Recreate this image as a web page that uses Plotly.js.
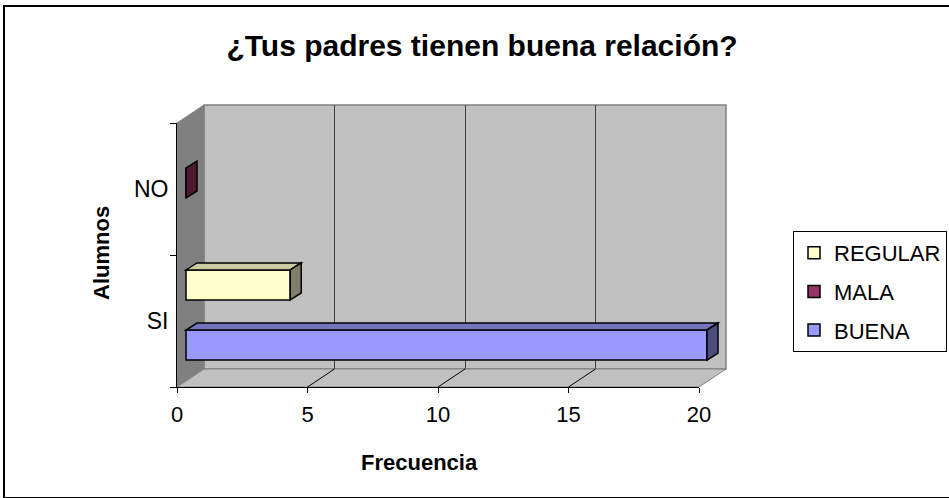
<!DOCTYPE html>
<html>
<head>
<meta charset="utf-8">
<script src="https://cdn.plot.ly/plotly-3.0.1.min.js"></script>
<style>
  html, body { margin: 0; padding: 0; background: #ffffff; }
  #chart { width: 949px; height: 498px; }
</style>
</head>
<body>
<div id="chart"></div>
<script>
// ---- data ----
const categories = ['SI', 'NO'];
const seriesNames = ['BUENA', 'MALA', 'REGULAR'];
const buena = [20, null];
const mala = [null, 0];
const regular = [4, null];
const xTicks = [0, 5, 10, 15, 20];
const chartTitle = '¿Tus padres tienen buena relación?';
const xTitle = 'Frecuencia';
const yTitle = 'Alumnos';

// ---- styles ----
const seriesValues = [buena, mala, regular];
const frontColors = ['#9999ff', '#993366', '#ffffcc'];
const topColors = ['#7373bf', '#732650', '#ccccA3'];
const sideColors = ['#4d4d80', '#4d1a33', '#80806a'];

const W = 949, H = 498;
const px = x => x / W;
const py = y => 1 - y / H;
const FONT = 'Arial, "Liberation Sans", sans-serif';

// geometry (pixels)
const front = { x0: 177, x1: 699, y0: 123, y1: 387 };
const back = { x0: 204, x1: 726, y0: 105, y1: 369 };
const barPlane = { x0: 186, unit: 26.05, y0: 117, y1: 381 };
const xMax = 20;
const bargap = 0.318;
const depthPx = { dx: 11, dy: 7 };

const traces = [];
// subplot xy: back wall grid (drawn first, lowest)
traces.push({ type: 'scatter', x: [null], y: [null], xaxis: 'x', yaxis: 'y',
  showlegend: false, hoverinfo: 'skip', mode: 'markers' });
// subplot x2y2: front axis
traces.push({ type: 'scatter', x: categories.map(() => null), y: categories,
  xaxis: 'x2', yaxis: 'y2', showlegend: false, hoverinfo: 'skip', mode: 'markers' });
// subplot x3y3: bars
seriesNames.forEach((name, i) => {
  traces.push({
    type: 'bar', orientation: 'h', name: name,
    x: seriesValues[i], y: categories,
    xaxis: 'x3', yaxis: 'y3',
    legendgroup: name,
    legendrank: 1000 - i,
    marker: { color: frontColors[i], line: { color: '#000000', width: 1.5 } },
    hoverinfo: 'x+name'
  });
});

const shapes = [];
// outer border
shapes.push({ type: 'rect', xref: 'paper', yref: 'paper', layer: 'below',
  x0: px(4), x1: px(960), y0: py(6), y1: py(498),
  line: { color: '#000000', width: 2 }, fillcolor: '#ffffff' });
// back wall
shapes.push({ type: 'rect', xref: 'paper', yref: 'paper', layer: 'below',
  x0: px(back.x0), x1: px(back.x1), y0: py(back.y1), y1: py(back.y0),
  line: { color: '#808080', width: 1.5 }, fillcolor: '#c0c0c0' });
// left wall
shapes.push({ type: 'path', xref: 'paper', yref: 'paper', layer: 'below',
  path: `M${px(front.x0)},${py(front.y0)} L${px(back.x0)},${py(back.y0)} L${px(back.x0)},${py(back.y1)} L${px(front.x0)},${py(front.y1)} Z`,
  line: { color: '#808080', width: 1 }, fillcolor: '#808080' });
// floor
shapes.push({ type: 'path', xref: 'paper', yref: 'paper', layer: 'below',
  path: `M${px(front.x0)},${py(front.y1)} L${px(back.x0)},${py(back.y1)} L${px(back.x1)},${py(back.y1)} L${px(front.x1)},${py(front.y1)} Z`,
  line: { color: '#808080', width: 1 }, fillcolor: '#c0c0c0' });
// floor diagonal grid lines
const fUnit = (front.x1 - front.x0) / xMax, bUnit = (back.x1 - back.x0) / xMax;
xTicks.filter(v => v > 0 && v < xMax).forEach(v => {
  shapes.push({ type: 'line', xref: 'paper', yref: 'paper', layer: 'below',
    x0: px(front.x0 + v * fUnit), y0: py(front.y1),
    x1: px(back.x0 + v * bUnit), y1: py(back.y1),
    line: { color: '#000000', width: 1 } });
});

// 3D faces of bars
const catPx = (barPlane.y1 - barPlane.y0) / categories.length;
const dxU = depthPx.dx / barPlane.unit, dyU = depthPx.dy / catPx;
const slot = (1 - bargap) / seriesNames.length;
seriesNames.forEach((name, i) => {
  seriesValues[i].forEach((v, c) => {
    if (v === null || v === undefined) return;
    const o = (i - (seriesNames.length - 1) / 2) * slot;
    const lo = c + o - slot / 2, hi = c + o + slot / 2;
    if (v > 0) {
      shapes.push({ type: 'path', xref: 'x3', yref: 'y3', layer: 'above',
        path: `M0,${hi} L${v},${hi} L${v + dxU},${hi + dyU} L${dxU},${hi + dyU} Z`,
        fillcolor: topColors[i], line: { color: '#000000', width: 1.5 } });
    }
    shapes.push({ type: 'path', xref: 'x3', yref: 'y3', layer: 'above',
      path: `M${v},${lo} L${v},${hi} L${v + dxU},${hi + dyU} L${v + dxU},${lo + dyU} Z`,
      fillcolor: sideColors[i], line: { color: '#000000', width: 1.5 } });
  });
});

const layout = {
  width: W, height: H,
  margin: { l: 0, r: 0, t: 0, b: 0, pad: 0 },
  paper_bgcolor: '#ffffff',
  plot_bgcolor: 'rgba(0,0,0,0)',
  font: { family: FONT, color: '#000000', size: 22 },
  title: { text: '<b>' + chartTitle + '</b>', xref: 'paper', yref: 'paper',
    x: px(482), y: py(45), xanchor: 'center', yanchor: 'middle',
    font: { family: FONT, size: 30, color: '#000000' } },
  showlegend: true,
  barmode: 'group', bargap: bargap, bargroupgap: 0,
  legend: {
    x: px(793), y: py(231), xanchor: 'left', yanchor: 'top',
    xref: 'paper', yref: 'paper',
    bgcolor: '#ffffff', bordercolor: '#000000', borderwidth: 1,
    traceorder: 'grouped', tracegroupgap: 7,
    font: { family: FONT, size: 22, color: '#000000' }
  },
  // back wall gridlines
  xaxis: { domain: [px(back.x0), px(back.x1)], range: [0, xMax], anchor: 'y',
    tickvals: xTicks.filter(v => v > 0 && v < xMax), showticklabels: false, ticks: '',
    showgrid: true, gridcolor: '#404040', gridwidth: 1, zeroline: false, showline: false, fixedrange: true },
  yaxis: { domain: [py(back.y1), py(back.y0)], range: [0, 1], anchor: 'x',
    visible: false, fixedrange: true },
  // front axes
  xaxis2: { domain: [px(front.x0), px(front.x1)], range: [0, xMax], anchor: 'y2',
    tickvals: xTicks, ticks: 'outside', ticklen: 5, tickcolor: '#000000', tickwidth: 1,
    showline: true, linecolor: '#000000', linewidth: 1, showgrid: false, zeroline: false,
    ticklabelstandoff: 3,
    tickfont: { family: FONT, size: 22, color: '#000000' }, fixedrange: true },
  yaxis2: { domain: [py(front.y1), py(front.y0)], type: 'category',
    categoryorder: 'array', categoryarray: categories, range: [-0.5, categories.length - 0.5],
    anchor: 'x2', tickson: 'boundaries', ticks: 'outside', ticklen: 6, tickcolor: '#000000',
    showline: true, linecolor: '#000000', linewidth: 1, showgrid: false, zeroline: false,
    ticklabelstandoff: 3,
    tickfont: { family: FONT, size: 23, color: '#000000' }, fixedrange: true },
  // bar plane
  xaxis3: { domain: [px(barPlane.x0 - 0.5 * barPlane.unit), px(barPlane.x0 + 21 * barPlane.unit)],
    range: [-0.5, 21], anchor: 'y3', visible: false, fixedrange: true },
  yaxis3: { domain: [py(barPlane.y1), py(barPlane.y0)], type: 'category',
    categoryorder: 'array', categoryarray: categories, range: [-0.5, categories.length - 0.5],
    anchor: 'x3', visible: false, fixedrange: true },
  shapes: shapes,
  annotations: [
    { text: '<b>' + xTitle + '</b>', xref: 'paper', yref: 'paper', x: px(419), y: py(462),
      xanchor: 'center', yanchor: 'middle', showarrow: false,
      font: { family: FONT, size: 22, color: '#000000' } },
    { text: '<b>' + yTitle + '</b>', xref: 'paper', yref: 'paper', x: px(101), y: py(253),
      xanchor: 'center', yanchor: 'middle', showarrow: false, textangle: -90,
      font: { family: FONT, size: 22, color: '#000000' } }
  ]
};

Plotly.newPlot('chart', traces, layout, { displayModeBar: false, staticPlot: true });
</script>
</body>
</html>
